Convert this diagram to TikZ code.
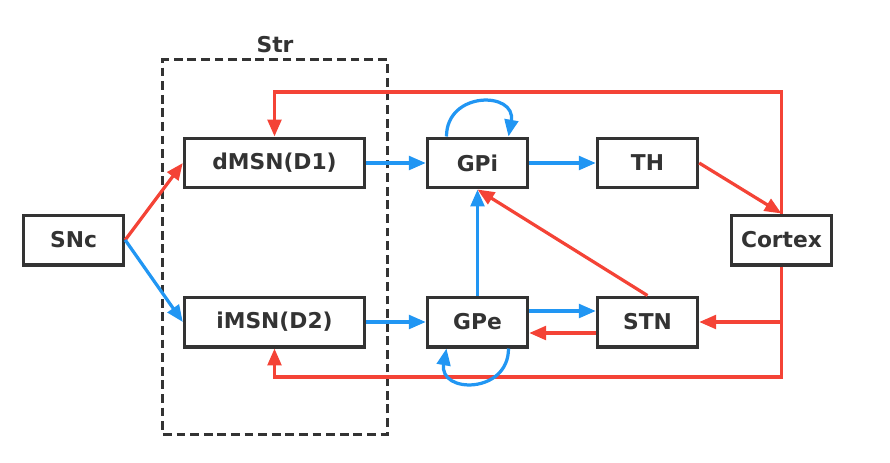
\documentclass[tikz,border=0pt]{standalone}
\usepackage{fontspec}
\setmainfont{DejaVu Sans}
\usetikzlibrary{arrows.meta}
\definecolor{arrRed}{HTML}{F44336}
\definecolor{arrBlue}{HTML}{2196F3}
\definecolor{boxGray}{HTML}{333333}

\begin{document}
\begin{tikzpicture}
[x=0.025cm,y=-0.025cm,
  boxDecorate/.style={shape=rectangle,draw=boxGray,line width=2.4pt,minimum width=2.5cm,minimum height=1.24cm,inner sep=0pt,font=\fontsize{15.5}{18}\selectfont\bfseries,text=boxGray},
  wideDecorate/.style={boxDecorate,minimum width=4.5cm},
  strDecorate/.style={shape=rectangle,draw=boxGray,line width=2.1pt,dash pattern=on 0.22cm off 0.12cm,minimum width=5.6cm,minimum height=9.35cm},
  redLine/.style={draw=arrRed,line width=2.3pt,-{Triangle[length=0.42cm,width=0.34cm]}},
  blueLine/.style={draw=arrBlue,line width=2.3pt,-{Triangle[length=0.42cm,width=0.34cm]}}]
\useasboundingbox (0,0) rectangle (890,462);
%% striatum frame
\node (strBox) at (275,247) [strDecorate] {};
\node (strLabel) at (275,45) [font=\fontsize{15.5}{18}\selectfont\bfseries,text=boxGray] {Str};
%% nodes or vertices
\node (snc) at (73.5,240) [boxDecorate] {SNc};
\node (dmsn) at (274.5,163) [wideDecorate] {dMSN(D1)};
\node (imsn) at (274.5,322) [wideDecorate] {iMSN(D2)};
\node (gpi) at (477.5,163) [boxDecorate] {GPi};
\node (gpe) at (477.5,322) [boxDecorate] {GPe};
\node (th) at (647.5,163) [boxDecorate] {TH};
\node (stn) at (647.5,322) [boxDecorate] {STN};
\node (cortex) at (781.5,240) [boxDecorate] {Cortex};
%% corners of the feedback lines
\coordinate (topRight) at (781.5,92);
\coordinate (topLeft) at (274.5,92);
\coordinate (botRight) at (781.5,377);
\coordinate (botLeft) at (274.5,377);
\coordinate (stnIn) at (781.5,322);
%% edges or lines
\path
(snc.east) edge[redLine] (dmsn.west)
(snc.east) edge[blueLine] (imsn.west)
(dmsn) edge[blueLine] (gpi)
(imsn) edge[blueLine] (gpe)
(gpi) edge[blueLine] (th)
(th.east) edge[redLine] (cortex.north)
(gpe) edge[blueLine] (gpi)
(stn.north) edge[redLine] (gpi.south)
([yshift=0.275cm]gpe.east) edge[blueLine] ([yshift=0.275cm]stn.west)
([yshift=-0.275cm]stn.west) edge[redLine] ([yshift=-0.275cm]gpe.east)
(stnIn) edge[redLine] (stn.east);
\draw[redLine] (cortex.north) -- (topRight) -- (topLeft) -- (dmsn.north);
\draw[redLine] (cortex.south) -- (botRight) -- (botLeft) -- (imsn.south);
%% self loops
\draw[blueLine] ([xshift=-0.775cm]gpi.north) to[out=90,in=80,looseness=1.9] ([xshift=0.775cm]gpi.north);
\draw[blueLine] ([xshift=0.775cm]gpe.south) to[out=-90,in=-100,looseness=1.9] ([xshift=-0.775cm]gpe.south);
\end{tikzpicture}
\end{document}
